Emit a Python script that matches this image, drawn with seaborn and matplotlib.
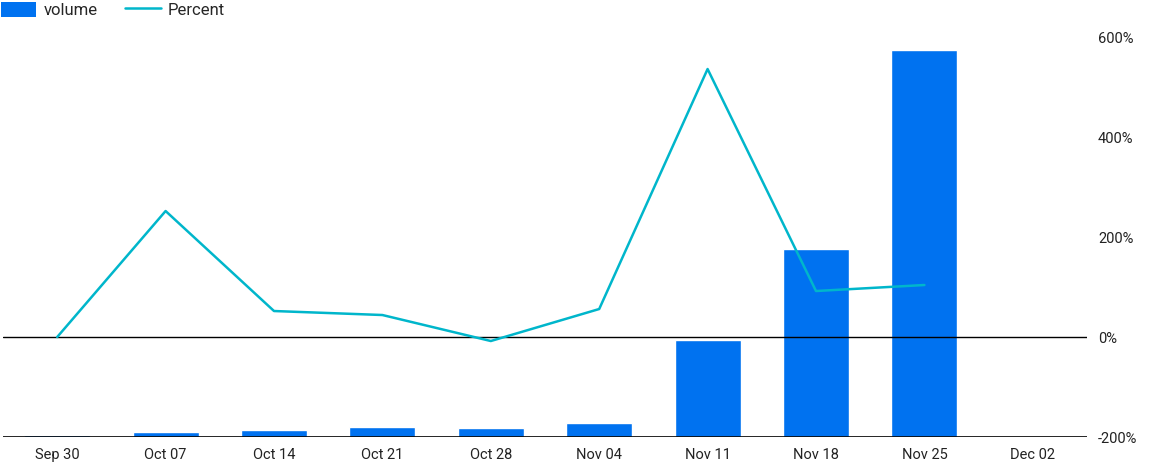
import numpy as np
import pandas as pd
import matplotlib.pyplot as plt
import seaborn as sns
from matplotlib.patches import Patch
from matplotlib.lines import Line2D
from matplotlib.ticker import FuncFormatter

# Weekly data
weeks = ['Sep 30', 'Oct 07', 'Oct 14', 'Oct 21', 'Oct 28', 'Nov 04', 'Nov 11', 'Nov 18', 'Nov 25', 'Dec 02']
volume = [180, 480, 720, 1050, 950, 1450, 9700, 18800, 38700, 0]
percent = [0, 252, 52, 44, -8, 56, 536, 92, 104]

df = pd.DataFrame({'week': weeks, 'volume': volume})
df_pct = pd.DataFrame({'pos': np.arange(len(percent)), 'percent': percent})

sns.set_theme(style='white')
plt.rcParams['font.family'] = ['Roboto', 'DejaVu Sans']

bar_color = '#0072f0'
line_color = '#00b6cb'

fig = plt.figure(figsize=(11.56, 4.68), dpi=100)
ax = fig.add_axes([0.0026, 0.0662, 0.9377, 0.8547])

sns.barplot(data=df, x='week', y='volume', color=bar_color, width=0.61,
            saturation=1, ax=ax)
ax.set_ylim(0, 40000)
ax.set_xlim(-0.5, len(weeks) - 0.5)
ax.set_yticks([])
ax.set_xlabel('')
ax.set_ylabel('')
ax.tick_params(axis='x', length=0, pad=8, labelsize=10.5, colors='#222222')
for s in ax.spines.values():
    s.set_visible(False)

ax2 = ax.twinx()
sns.lineplot(data=df_pct, x='pos', y='percent', color=line_color, linewidth=1.8, ax=ax2)
ax2.set_ylim(-200, 600)
ax2.set_yticks([-200, 0, 200, 400, 600])
ax2.yaxis.set_major_formatter(FuncFormatter(lambda v, p: f'{v:.0f}%'))
ax2.tick_params(axis='y', length=0, pad=8, labelsize=10.5, colors='#222222')
ax2.set_ylabel('')
ax2.set_xlabel('')
ax2.axhline(0, color='black', linewidth=1, zorder=1)
ax2.axhline(-200, color='black', linewidth=1.2, zorder=1)
for s in ax2.spines.values():
    s.set_visible(False)
ax2.grid(False)
ax.grid(False)

handles = [Patch(facecolor=bar_color, edgecolor='none'),
           Line2D([0], [0], color=line_color, linewidth=1.8)]
fig.legend(handles, ['volume', 'Percent'], loc='upper left', bbox_to_anchor=(-0.0125, 1.028),
           ncol=2, frameon=False, fontsize=12, handlelength=2.15, handleheight=1.0,
           handletextpad=0.45, columnspacing=1.6)

fig.savefig('out.png', dpi=100)
